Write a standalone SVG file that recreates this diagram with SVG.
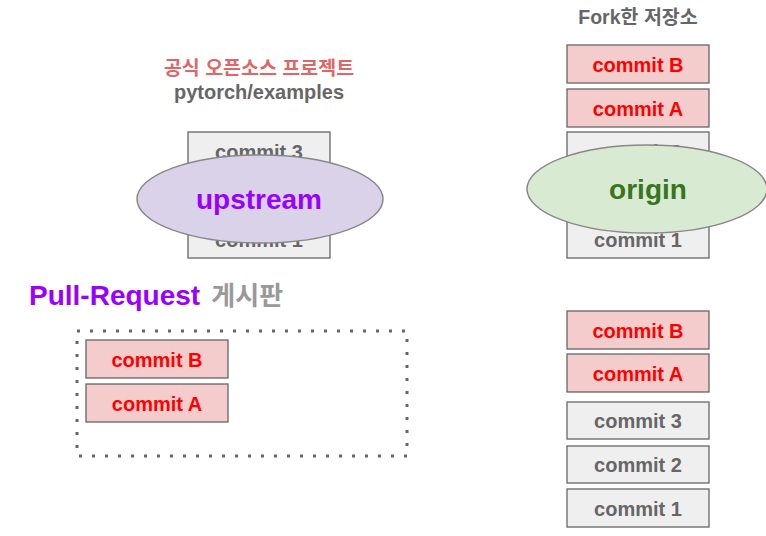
<svg xmlns="http://www.w3.org/2000/svg" width="766" height="536" viewBox="0 0 766 536">
<style>
text{font-family:"Liberation Sans","Noto Sans CJK KR",sans-serif;font-weight:bold;text-anchor:middle}
.cr rect{fill:#f4cccc;stroke:#666;stroke-width:1.3}
.cr text{fill:#ff0000;font-size:20px}
.cg rect{fill:#efefef;stroke:#666;stroke-width:1.3}
.cg text{fill:#666;font-size:20px}
</style>
<rect width="766" height="536" fill="#fff"/>
<g id="title-upstream">
<text x="259" y="75" style="fill:#e06666;font-size:19.5px">공식 오픈소스 프로젝트</text>
<text x="259" y="99" style="fill:#666;font-size:20px">pytorch/examples</text>
</g>
<g id="title-fork"><text x="638" y="24" style="fill:#666;font-size:19.5px">Fork한 저장소</text></g>
<g id="upstream-commits">
<g class="cg"><rect x="188" y="132" width="142" height="38"/><text x="259" y="159">commit 3</text></g>
<g class="cg"><rect x="188" y="176" width="142" height="38"/></g>
<g class="cg"><rect x="188" y="220" width="142" height="38"/><text x="259" y="247">commit 1</text></g>
</g>
<g id="upstream"><ellipse cx="260" cy="199" rx="123" ry="44" fill="#d9d2e9" stroke="#888" stroke-width="1.5"/><text x="259" y="209" style="fill:#9900ff;font-size:28px">upstream</text></g>
<g id="origin-commits">
<g class="cr"><rect x="567" y="45" width="142" height="38"/><text x="638" y="72">commit B</text></g>
<g class="cr"><rect x="567" y="89" width="142" height="38"/><text x="638" y="116">commit A</text></g>
<g class="cg"><rect x="567" y="132" width="142" height="38"/><text x="638" y="159">commit 3</text></g>
<g class="cg"><rect x="567" y="176" width="142" height="38"/></g>
<g class="cg"><rect x="567" y="220" width="142" height="38"/><text x="638" y="247">commit 1</text></g>
</g>
<g id="origin"><ellipse cx="647" cy="189" rx="120" ry="44" fill="#d9ead3" stroke="#888" stroke-width="1.5"/><text x="648" y="199" style="fill:#38761d;font-size:28px">origin</text></g>
<g id="pr-title"><text x="29" y="305" style="text-anchor:start"><tspan fill="#9900ff" style="font-size:28px">Pull-Request</tspan><tspan fill="#999" dx="4" style="font-size:26px"> 게시판</tspan></text></g>
<g id="pr-board">
<rect x="77" y="331" width="330" height="125" fill="none" stroke="#666" stroke-width="3" stroke-dasharray="3 10"/>
<g class="cr"><rect x="86" y="340" width="142" height="38"/><text x="157" y="367">commit B</text></g>
<g class="cr"><rect x="86" y="384" width="142" height="38"/><text x="157" y="411">commit A</text></g>
</g>
<g id="local-commits">
<g class="cr"><rect x="567" y="311" width="142" height="38"/><text x="638" y="338">commit B</text></g>
<g class="cr"><rect x="567" y="354" width="142" height="38"/><text x="638" y="381">commit A</text></g>
<g class="cg"><rect x="567" y="402" width="142" height="37"/><text x="638" y="428">commit 3</text></g>
<g class="cg"><rect x="567" y="446" width="142" height="37"/><text x="638" y="472">commit 2</text></g>
<g class="cg"><rect x="567" y="489" width="142" height="38"/><text x="638" y="516">commit 1</text></g>
</g>
<g id="connectors"/>
</svg>
